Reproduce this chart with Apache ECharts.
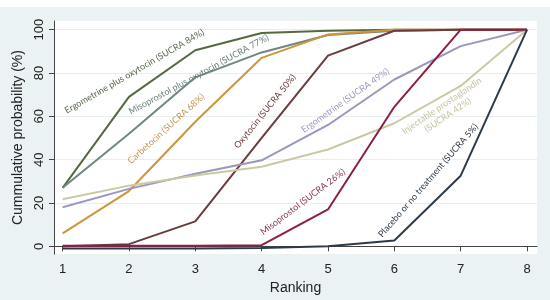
<!DOCTYPE html>
<html>
<head>
<meta charset="utf-8">
<script src="https://cdn.jsdelivr.net/npm/echarts@6/dist/echarts.min.js"></script>
<style>
    html, body { margin: 0; padding: 0; background: #fff; }
    #chart { position: absolute; left: 0; top: 7px; width: 550px; height: 293px; }
</style>
</head>
<body>
<div id="chart"></div>
<script>
// rankings 1..8, cumulative probability (%)
const ranks = [1, 2, 3, 4, 5, 6, 7, 8];
const yTicks = [0, 20, 40, 60, 80, 100];

const ergoOxy = [27, 69, 90.5, 98.5, 99.5, 100, 100, 100];
const misoOxy = [27, 52, 78, 89.5, 97.5, 99.5, 100, 100];
const carbetocin = [6, 25.5, 57.5, 87, 97.8, 100, 100, 100];
const oxytocin = [0, 1, 11.5, 50, 88, 99.5, 100, 100];
const ergometrine = [18, 26.5, 33.5, 39.7, 56, 77, 92.4, 100];
const injectable = [21.7, 28, 32.7, 36.7, 44.7, 56.8, 74, 100];
const misoprostol = [0.2, 0.2, 0.3, 0.5, 17, 64.4, 100, 100];
const placebo = [-1, -1, -1, -0.8, 0, 2.7, 32.6, 100];

const names = [
    'Ergometrine plus oxytocin (SUCRA 84%)',
    'Misoprostol plus oxytocin (SUCRA 77%)',
    'Carbetocin (SUCRA 68%)',
    'Oxytocin (SUCRA 50%)',
    'Ergometrine (SUCRA 49%)',
    'Injectable prostaglandin\n(SUCRA 42%)',
    'Misoprostol (SUCRA 26%)',
    'Placebo or no treatment (SUCRA 5%)'
];
const allData = [ergoOxy, misoOxy, carbetocin, oxytocin, ergometrine, injectable, misoprostol, placebo];
const colors = ['#55693f', '#6f8682', '#d0953a', '#6b3b3e', '#9b97bd', '#cbc9a2', '#8c1f42', '#2c3b4a'];
const labelColors = ['#5a6b4c', '#6a7e7b', '#c49352', '#6b3a3d', '#9c98b9', '#c6c4a2', '#8a3352', '#2f3b48'];

// label anchors in data coordinates + rotation
const labelPos = [
    [2.08, 80.7, 30],
    [3.05, 79.3, 28.5],
    [2.56, 54.3, 42],
    [4.05, 62.3, 51],
    [5.26, 67.3, 35],
    [6.76, 62.7, 34],
    [4.62, 20.5, 37],
    [6.51, 30.4, 49]
];

const chart = echarts.init(document.getElementById('chart'));

const series = allData.map((d, i) => ({
    type: 'line',
    name: names[i],
    data: d.map((v, j) => [ranks[j], v]),
    symbol: 'none',
    lineStyle: { color: colors[i], width: 2 },
    itemStyle: { color: colors[i] },
    animation: false
}));

const option = {
    backgroundColor: '#eaf2f3',
    animation: false,
    grid: {
        left: 54,
        right: 13,
        top: 14,
        bottom: 42,
        show: true,
        backgroundColor: '#fff',
        borderWidth: 0
    },
    xAxis: {
        type: 'value',
        min: 0.87,
        max: 8.15,
        name: 'Ranking',
        nameLocation: 'middle',
        nameGap: 24,
        nameTextStyle: { fontFamily: 'Liberation Sans', fontSize: 14, color: '#222' },
        axisLine: { lineStyle: { color: '#444', width: 1 } },
        axisTick: { length: 5, lineStyle: { color: '#444' }, customValues: ranks },
        axisLabel: { customValues: ranks, fontFamily: 'Liberation Sans', fontSize: 13, color: '#222', margin: 9 },
        splitLine: { show: false }
    },
    yAxis: {
        type: 'value',
        min: -3.6,
        max: 104,
        name: 'Cummulative probability (%)',
        nameLocation: 'middle',
        nameGap: 24,
        nameTextStyle: { fontFamily: 'Liberation Sans', fontSize: 14, color: '#222' },
        axisLine: { show: true, lineStyle: { color: '#444', width: 1 } },
        axisTick: { show: true, length: 5, lineStyle: { color: '#444' }, customValues: yTicks },
        axisLabel: { customValues: yTicks, rotate: 90, fontFamily: 'Liberation Sans', fontSize: 13, color: '#222', margin: 8 },
        splitLine: { show: true, lineStyle: { color: '#e9eeee', width: 1 } }
    },
    series: series
};
chart.setOption(option);

const graphic = labelPos.map((p, i) => {
    const px = chart.convertToPixel({ gridIndex: 0 }, [p[0], p[1]]);
    return {
        type: 'text',
        x: px[0],
        y: px[1],
        rotation: p[2] * Math.PI / 180,
        z: 100,
        style: {
            text: names[i],
            fill: labelColors[i],
            font: '9px Lato',
            align: 'center',
            verticalAlign: 'middle',
            lineHeight: 11
        }
    };
});
chart.setOption({ graphic: graphic });
</script>
</body>
</html>
